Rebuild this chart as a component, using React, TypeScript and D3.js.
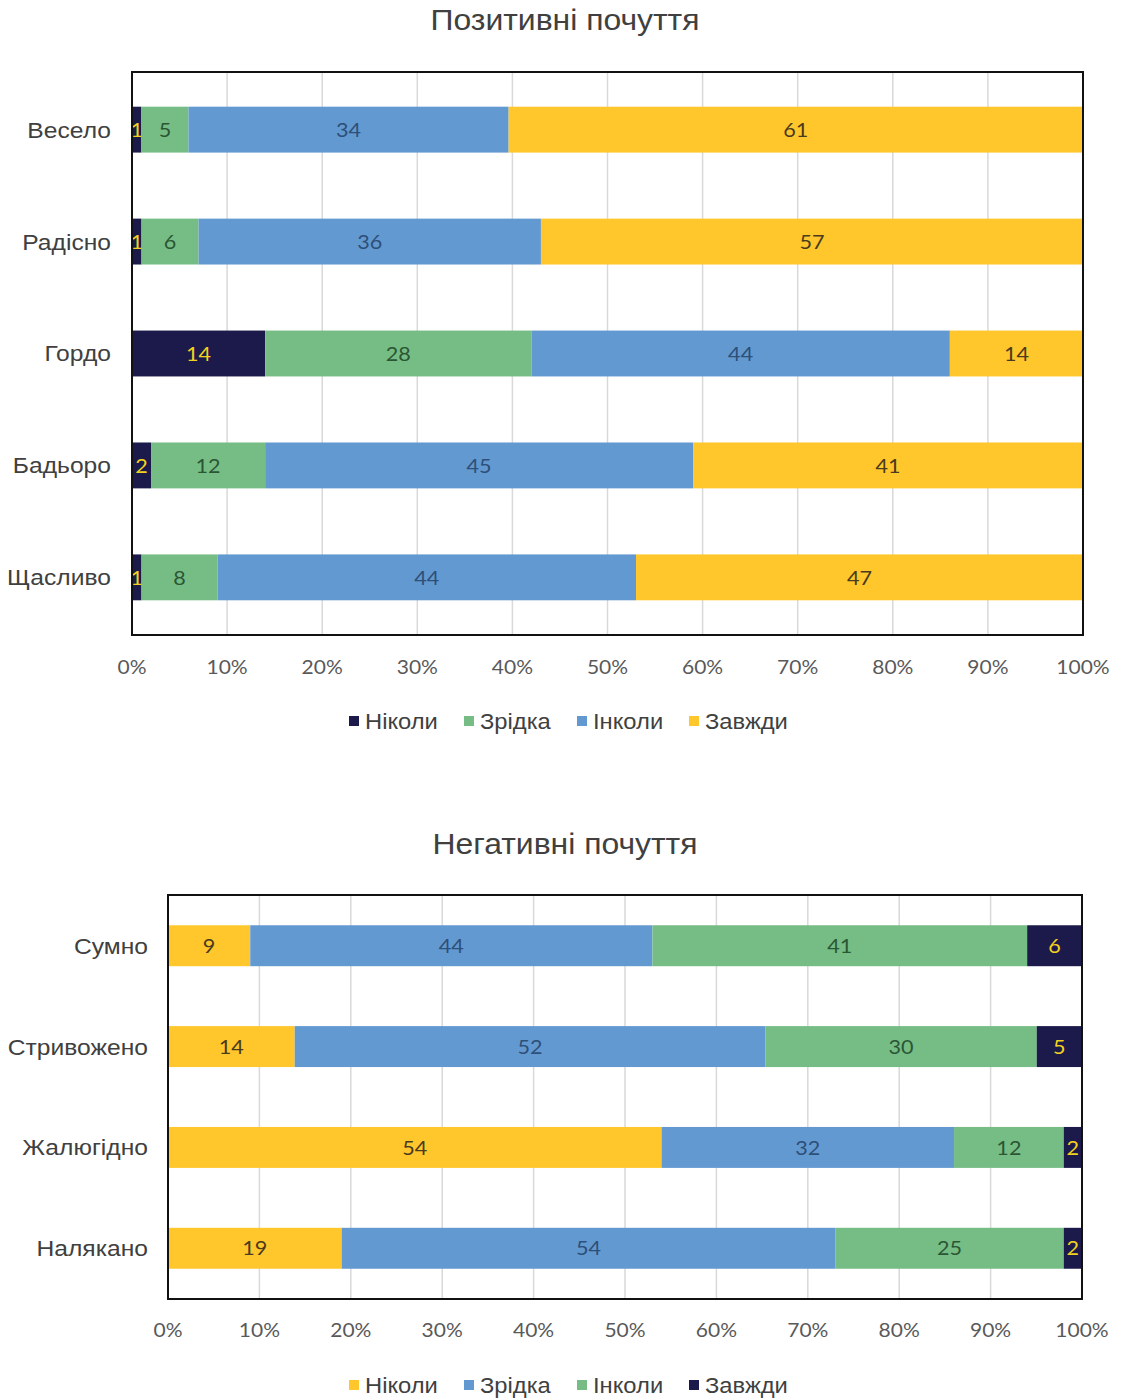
import React from "react";
import * as d3 from "d3";

const posCategories = ["Весело", "Радісно", "Гордо", "Бадьоро", "Щасливо"];
const posNikoly = [1, 1, 14, 2, 1];
const posZridka = [5, 6, 28, 12, 8];
const posInkoly = [34, 36, 44, 45, 44];
const posZavzhdy = [61, 57, 14, 41, 47];

const negCategories = ["Сумно", "Стривожено", "Жалюгідно", "Налякано"];
const negNikoly = [9, 14, 54, 19];
const negZridka = [44, 52, 32, 54];
const negInkoly = [41, 30, 12, 25];
const negZavzhdy = [6, 5, 2, 2];

const seriesNames = ["Ніколи", "Зрідка", "Інколи", "Завжди"];
const xTicks = [0, 0.1, 0.2, 0.3, 0.4, 0.5, 0.6, 0.7, 0.8, 0.9, 1];

const NAVY = "#1c1a4b";
const GREEN = "#76bd85";
const BLUE = "#6399d1";
const YELLOW = "#ffc72c";

const textOn: Record<string, string> = {
  [NAVY]: "#f2d21e",
  [GREEN]: "#2b5634",
  [BLUE]: "#2d4f78",
  [YELLOW]: "#4a3a1e",
};

const SANS = "Liberation Sans, Arial, sans-serif";
const CAL = "Lato, 'Open Sans', sans-serif";

type ChartProps = {
  title: string;
  titleY: number;
  categories: string[];
  series: number[][];
  colors: string[];
  left: number;
  right: number;
  top: number;
  bottom: number;
  paddingInner: number;
  paddingOuter: number;
  labelX: number;
  tickY: number;
  legendY: number;
  legendX: number[];
};

function Chart(p: ChartProps) {
  const rows = p.categories.map((c, i) => {
    const o: any = { cat: c };
    seriesNames.forEach((s, k) => (o[s] = p.series[k][i]));
    return o;
  });
  const stacked = d3
    .stack<any>()
    .keys(seriesNames)
    .offset(d3.stackOffsetExpand)(rows);
  const x = d3.scaleLinear().domain([0, 1]).range([p.left, p.right]);
  const y = d3
    .scaleBand()
    .domain(p.categories)
    .range([p.top, p.bottom])
    .paddingInner(p.paddingInner)
    .paddingOuter(p.paddingOuter);
  const fmt = d3.format(".0%");
  return (
    <g>
      <text
        transform={`translate(565,${p.titleY}) scale(1.1,1)`}
        textAnchor="middle"
        fontFamily={SANS}
        fontSize={29}
        fill="#404040"
      >
        {p.title}
      </text>
      {xTicks.map((t) => (
        <line
          key={"g" + t}
          x1={x(t)}
          x2={x(t)}
          y1={p.top}
          y2={p.bottom}
          stroke="#d9d9d9"
          strokeWidth={1.5}
        />
      ))}
      {stacked.map((layer, k) =>
        layer.map((d, i) => {
          const x0 = x(d[0]);
          const x1 = x(d[1]);
          const yy = y(p.categories[i])!;
          const bw = y.bandwidth();
          const col = p.colors[k];
          return (
            <g key={k + "-" + i}>
              <rect x={x0} y={yy} width={x1 - x0} height={bw} fill={col} />
              <text
                transform={`translate(${(x0 + x1) / 2},${yy + bw / 2}) scale(1.08,1)`}
                dy="0.36em"
                textAnchor="middle"
                fontFamily={CAL}
                fontSize={20}
                fill={textOn[col]}
              >
                {p.series[k][i]}
              </text>
            </g>
          );
        })
      )}
      <rect
        x={p.left}
        y={p.top}
        width={p.right - p.left}
        height={p.bottom - p.top}
        fill="none"
        stroke="#111"
        strokeWidth={2}
      />
      {p.categories.map((c) => (
        <text
          key={c}
          transform={`translate(${p.labelX},${y(c)! + y.bandwidth() / 2}) scale(1.12,1)`}
          dy="0.36em"
          textAnchor="end"
          fontFamily={SANS}
          fontSize={22}
          fill="#404040"
        >
          {c}
        </text>
      ))}
      {xTicks.map((t) => (
        <text
          key={"t" + t}
          transform={`translate(${x(t)},${p.tickY}) scale(1.05,1)`}
          dy="0.36em"
          textAnchor="middle"
          fontFamily={CAL}
          fontSize={20}
          fill="#595959"
        >
          {fmt(t)}
        </text>
      ))}
      {seriesNames.map((s, k) => (
        <g key={"l" + s}>
          <rect
            x={p.legendX[k]}
            y={p.legendY - 5}
            width={10}
            height={10}
            fill={p.colors[k]}
          />
          <text
            transform={`translate(${p.legendX[k] + 16},${p.legendY}) scale(1.08,1)`}
            dy="0.36em"
            fontFamily={SANS}
            fontSize={22}
            fill="#404040"
          >
            {s}
          </text>
        </g>
      ))}
    </g>
  );
}

export default function App() {
  return (
    <svg
      width={1125}
      height={1399}
      style={{ position: "absolute", left: 0, top: 0, background: "#fff" }}
    >
      <rect width={1125} height={1399} fill="#fff" />
      <Chart
        title="Позитивні почуття"
        titleY={30}
        categories={posCategories}
        series={[posNikoly, posZridka, posInkoly, posZavzhdy]}
        colors={[NAVY, GREEN, BLUE, YELLOW]}
        left={132}
        right={1083}
        top={72}
        bottom={635}
        paddingInner={0.59}
        paddingOuter={0.31}
        labelX={111}
        tickY={667}
        legendY={721}
        legendX={[349, 464, 577, 689]}
      />
      <Chart
        title="Негативні почуття"
        titleY={854}
        categories={negCategories}
        series={[negNikoly, negZridka, negInkoly, negZavzhdy]}
        colors={[YELLOW, BLUE, GREEN, NAVY]}
        left={168}
        right={1082}
        top={895}
        bottom={1299}
        paddingInner={0.594}
        paddingOuter={0.3}
        labelX={148}
        tickY={1330}
        legendY={1385}
        legendX={[349, 464, 577, 689]}
      />
    </svg>
  );
}
